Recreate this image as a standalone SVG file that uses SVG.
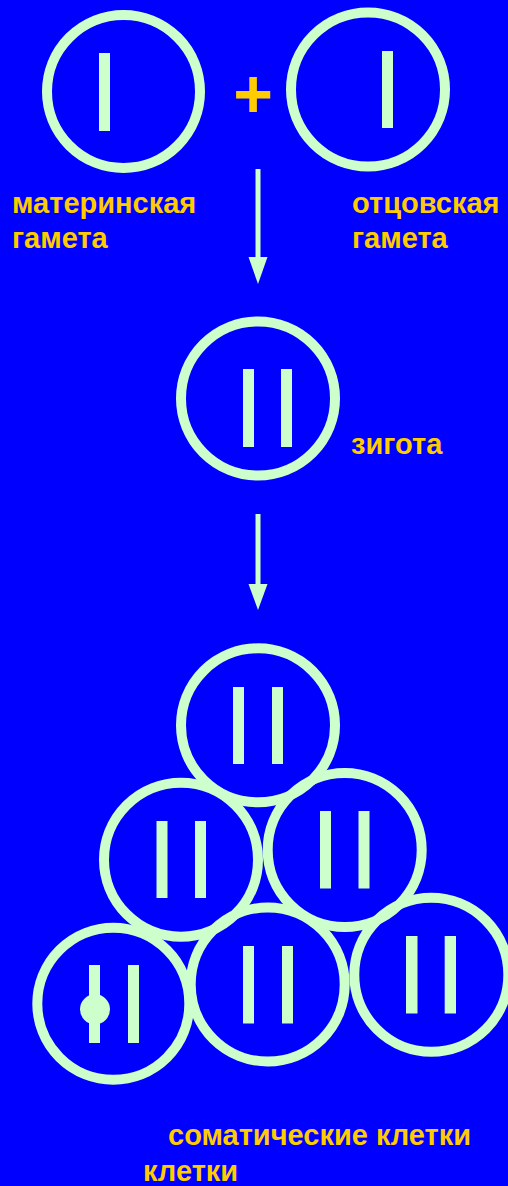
<svg xmlns="http://www.w3.org/2000/svg" width="508" height="1186" viewBox="0 0 508 1186">
<defs>
<style>
.cell{fill:none;stroke:#CCFFCC;stroke-width:10}
.chr{fill:#CCFFCC}
.lbl{fill:#FFCC00;font-family:"Liberation Sans",Arial,sans-serif;font-weight:bold;font-size:29px}
.conn{stroke:#CCFFCC;stroke-width:5}
.head{fill:#CCFFCC}
</style>
</defs>
<rect x="0" y="0" width="508" height="1186" fill="#0000FF"/>
<g id="maternal-gamete">
<circle class="cell" cx="123.5" cy="91.5" r="76.5"/>
<rect class="chr" x="99" y="53" width="11" height="78"/>
</g>
<g id="paternal-gamete">
<circle class="cell" cx="368" cy="89.5" r="77"/>
<rect class="chr" x="382" y="51" width="11" height="77"/>
</g>
<text id="plus" x="253" y="117" text-anchor="middle" style="fill:#FFCC00;font-family:'Liberation Sans',Arial,sans-serif;font-weight:bold;font-size:68px">+</text>
<text class="lbl" x="12" y="213">материнская</text>
<text class="lbl" x="12" y="248">гамета</text>
<text class="lbl" x="352" y="213">отцовская</text>
<text class="lbl" x="352" y="248">гамета</text>
<g id="zygote">
<circle class="cell" cx="258" cy="398.5" r="77"/>
<rect class="chr" x="243" y="369" width="11" height="78"/>
<rect class="chr" x="281" y="369" width="11" height="78"/>
</g>
<text class="lbl" x="351" y="454">зигота</text>
<g id="connectors">
<line class="conn" x1="258" y1="169" x2="258" y2="260"/>
<polygon class="head" points="248.5,257 267.5,257 258,284"/>
<line class="conn" x1="258" y1="514" x2="258" y2="586"/>
<polygon class="head" points="248.5,584 267.5,584 258,610"/>
</g>
<g id="cell-top">
<circle class="cell" cx="258" cy="725.3" r="77"/>
<rect class="chr" x="233" y="687" width="11" height="77"/>
<rect class="chr" x="272" y="687" width="11" height="77"/>
</g>
<g id="cell-mid-left">
<circle class="cell" cx="181" cy="859.7" r="77"/>
<rect class="chr" x="156.5" y="821" width="11" height="77"/>
<rect class="chr" x="195" y="821" width="11" height="77"/>
</g>
<g id="cell-mid-right">
<circle class="cell" cx="344.7" cy="850" r="77"/>
<rect class="chr" x="320" y="811" width="11" height="77.5"/>
<rect class="chr" x="358.5" y="811" width="11" height="77.5"/>
</g>
<g id="cell-bottom-left">
<circle class="cell" cx="113.3" cy="1003.7" r="76"/>
<rect class="chr" x="89" y="965" width="11" height="78"/>
<circle class="chr" cx="95" cy="1009.3" r="15"/>
<rect class="chr" x="128" y="965" width="11" height="78"/>
</g>
<g id="cell-bottom-middle">
<circle class="cell" cx="267.7" cy="984.5" r="77"/>
<rect class="chr" x="243" y="946" width="11" height="77.5"/>
<rect class="chr" x="282" y="946" width="11" height="77.5"/>
</g>
<g id="cell-bottom-right">
<circle class="cell" cx="431.3" cy="974.8" r="77"/>
<rect class="chr" x="406" y="936" width="11.5" height="77.5"/>
<rect class="chr" x="444.7" y="936" width="11.3" height="77.5"/>
</g>
<text class="lbl" x="168" y="1145">соматические клетки</text>
<text class="lbl" x="143" y="1181">клетки</text>
</svg>
